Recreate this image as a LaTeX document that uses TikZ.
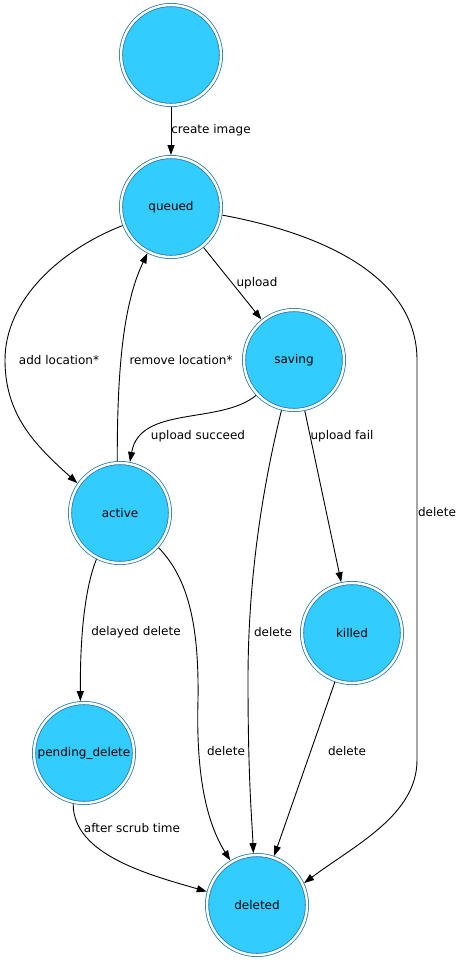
\documentclass[tikz,border=0pt]{standalone}
\usepackage{fontspec}
\setmainfont{DejaVu Sans}
\usetikzlibrary{arrows.meta}
\definecolor{fillc}{RGB}{51,204,255}
\definecolor{bord}{RGB}{40,122,178}
\begin{document}
\begin{tikzpicture}[x=1pt,y=-1pt,
  st/.style={circle, minimum size=100pt, inner sep=0pt, draw=bord, line width=0.8pt,
    double=white, double distance=2.4pt, fill=fillc, outer sep=2pt,
    font=\fontsize{12}{14}\selectfont},
  lab/.style={font=\fontsize{12}{14}\selectfont, inner sep=0pt},
  tr/.style={draw=black, line width=0.9pt, -{Triangle[length=10pt,width=7pt]}}]
\fill[white] (0,0) rectangle (460,961);
\useasboundingbox (0,0) rectangle (460,961);

\node[st] (start) at (171,55) {};
\node[st] (queued) at (171,207) {queued};
\node[st] (saving) at (294,360) {saving};
\node[st] (active) at (120,513) {active};
\node[st] (killed) at (352,633) {killed};
\node[st] (pending) at (84,753) {pending\_delete};
\node[st] (deleted) at (257,905) {deleted};

\draw[tr] (start) -- (queued) node[lab] at (211,130) {create image};
\draw[tr] (queued) -- (saving) node[lab] at (257,283) {upload};
\draw[tr] (queued.201.4) .. controls (60,250) and (5,300) .. (5,360)
   .. controls (5,415) and (35,445) .. (active.145.1)
   node[lab] at (59,360) {add location*};
\draw[tr] (active.93.3) .. controls (117,360) and (125,300) .. (queued.243.9)
   node[lab] at (181,360) {remove location*};
\draw[tr] (queued.-9.8) .. controls (330,235) and (417,280) .. (417,360)
   -- (417,760) .. controls (417,815) and (355,845) .. (deleted.25.6)
   node[lab] at (437,512) {delete};
\draw[tr] (saving.223.5) .. controls (220,425) and (140,405) .. (active.79.1)
   node[lab] at (198,436) {upload succeed};
\draw[tr] (saving.256.8) .. controls (262,490) and (248,580) .. (248,680)
   .. controls (248,780) and (252,820) .. (deleted.94.4)
   node[lab] at (273,632) {delete};
\draw[tr] (saving) -- (killed) node[lab] at (342,436) {upload fail};
\draw[tr] (active.243.4) .. controls (86,585) and (80,630) .. (pending.94.4)
   node[lab] at (136,632) {delayed delete};
\draw[tr] (active.-42.7) .. controls (190,580) and (199,630) .. (198,700)
   .. controls (196,770) and (205,820) .. (deleted.121)
   node[lab] at (226,751) {delete};
\draw[tr] (killed) -- (deleted) node[lab] at (347,751) {delete};
\draw[tr] (pending.258) .. controls (73,855) and (150,875) .. (deleted.165.4)
   node[lab] at (132,828) {after scrub time};
\end{tikzpicture}
\end{document}
